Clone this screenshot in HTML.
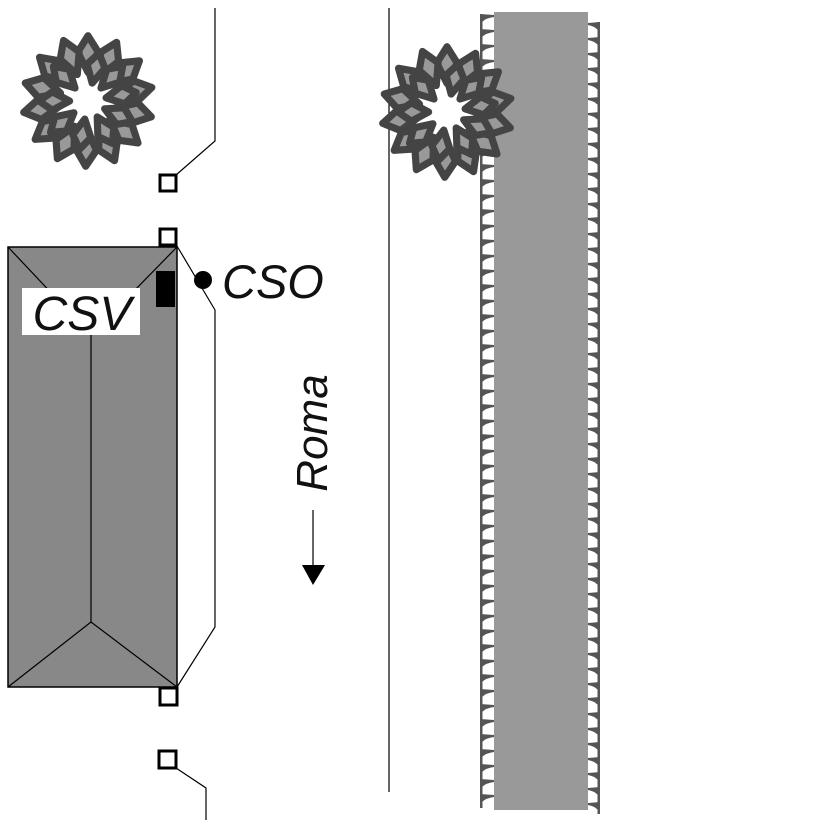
<!DOCTYPE html>
<html><head><meta charset="utf-8"><style>
html,body{margin:0;padding:0;background:#fff;}
svg{display:block}
</style></head><body>
<svg width="827" height="827" viewBox="0 0 827 827" xmlns="http://www.w3.org/2000/svg">
<defs>
<pattern id="tl" x="480" y="14" width="16" height="15" patternUnits="userSpaceOnUse">
<rect x="0" y="0" width="2.5" height="15" fill="#555"/>
<path d="M0,0 L14,1 L14,3 Q6,4 2,8 L0,8 Z" fill="#555"/>
</pattern>
<pattern id="tr" x="588" y="22" width="12" height="15" patternUnits="userSpaceOnUse">
<rect x="9.5" y="0" width="2.5" height="15" fill="#555"/>
<path d="M12,0 L0,1 L0,3 Q6,4 10,8 L12,8 Z" fill="#555"/>
</pattern>
<g id="leaf"><path d="M0,-64 L10,-48 L0,-28 L-10,-48 Z" fill="#999" stroke="#444" stroke-width="7" stroke-linejoin="round"/></g>
<g id="leaf2"><path d="M0,-48 L9,-35 L0,-18 L-9,-35 Z" fill="#999" stroke="#444" stroke-width="7" stroke-linejoin="round"/></g>
<g id="tree">
<use href="#leaf" transform="rotate(0)"/><use href="#leaf" transform="rotate(26)"/><use href="#leaf" transform="rotate(52)"/><use href="#leaf" transform="rotate(78)"/><use href="#leaf" transform="rotate(104)"/><use href="#leaf" transform="rotate(130)"/><use href="#leaf" transform="rotate(156)"/><use href="#leaf" transform="rotate(182)"/><use href="#leaf" transform="rotate(208)"/><use href="#leaf" transform="rotate(234)"/><use href="#leaf" transform="rotate(260)"/><use href="#leaf" transform="rotate(286)"/><use href="#leaf" transform="rotate(312)"/><use href="#leaf" transform="rotate(338)"/>
<use href="#leaf2" transform="rotate(13)"/><use href="#leaf2" transform="rotate(45)"/><use href="#leaf2" transform="rotate(80)"/><use href="#leaf2" transform="rotate(115)"/><use href="#leaf2" transform="rotate(150)"/><use href="#leaf2" transform="rotate(190)"/><use href="#leaf2" transform="rotate(230)"/><use href="#leaf2" transform="rotate(270)"/><use href="#leaf2" transform="rotate(315)"/>
</g>
</defs>

<!-- right strip -->
<rect x="480" y="14" width="14" height="794" fill="url(#tl)"/>
<rect x="588" y="22" width="12" height="792" fill="url(#tr)"/>
<rect x="494" y="12" width="94" height="798" fill="#999"/>

<line x1="389" y1="8" x2="389" y2="792" stroke="#000" stroke-width="1.2"/>

<use href="#tree" transform="translate(88,101) scale(1.02)"/>
<use href="#tree" transform="translate(447,112) scale(1.02)"/>

<!-- road outline -->
<polyline points="215,8 215,141 176,175" fill="none" stroke="#000" stroke-width="1.2"/>
<polyline points="177,246 215,310 215,627 177,687" fill="none" stroke="#000" stroke-width="1.2"/>
<polyline points="176,768 206,788 206,820" fill="none" stroke="#000" stroke-width="1.2"/>

<!-- building -->
<rect x="8" y="247" width="169" height="440" fill="#888" stroke="#000" stroke-width="1.5"/>
<polyline points="8,247 91,335 177,247" fill="none" stroke="#000" stroke-width="1.2"/>
<line x1="91" y1="335" x2="91" y2="622" stroke="#000" stroke-width="1.2"/>
<polyline points="8,687 91,622 177,687" fill="none" stroke="#000" stroke-width="1.2"/>
<rect x="22" y="288" width="118" height="47" fill="#fff"/>
<text x="82" y="330" font-family="Liberation Sans, sans-serif" font-style="italic" font-size="48" text-anchor="middle" fill="#111">CSV</text>
<rect x="156" y="271" width="19" height="36" fill="#000"/>

<!-- squares -->
<rect x="160" y="175" width="16" height="16" fill="#fff" stroke="#000" stroke-width="3"/>
<rect x="160" y="229" width="16" height="16" fill="#fff" stroke="#000" stroke-width="3"/>
<rect x="160" y="688" width="17" height="17" fill="#fff" stroke="#000" stroke-width="3"/>
<rect x="159" y="751" width="17" height="17" fill="#fff" stroke="#000" stroke-width="3"/>

<circle cx="203" cy="280" r="9" fill="#000"/>
<text x="222" y="298" font-family="Liberation Sans, sans-serif" font-style="italic" font-size="47" fill="#111">CSO</text>

<text transform="translate(327,433) rotate(-90)" font-family="Liberation Sans, sans-serif" font-style="italic" font-size="44" text-anchor="middle" fill="#111">Roma</text>
<line x1="313" y1="510" x2="313" y2="568" stroke="#000" stroke-width="1.2"/>
<polygon points="302,565 325,565 313,585" fill="#000"/>
</svg>
</body></html>
